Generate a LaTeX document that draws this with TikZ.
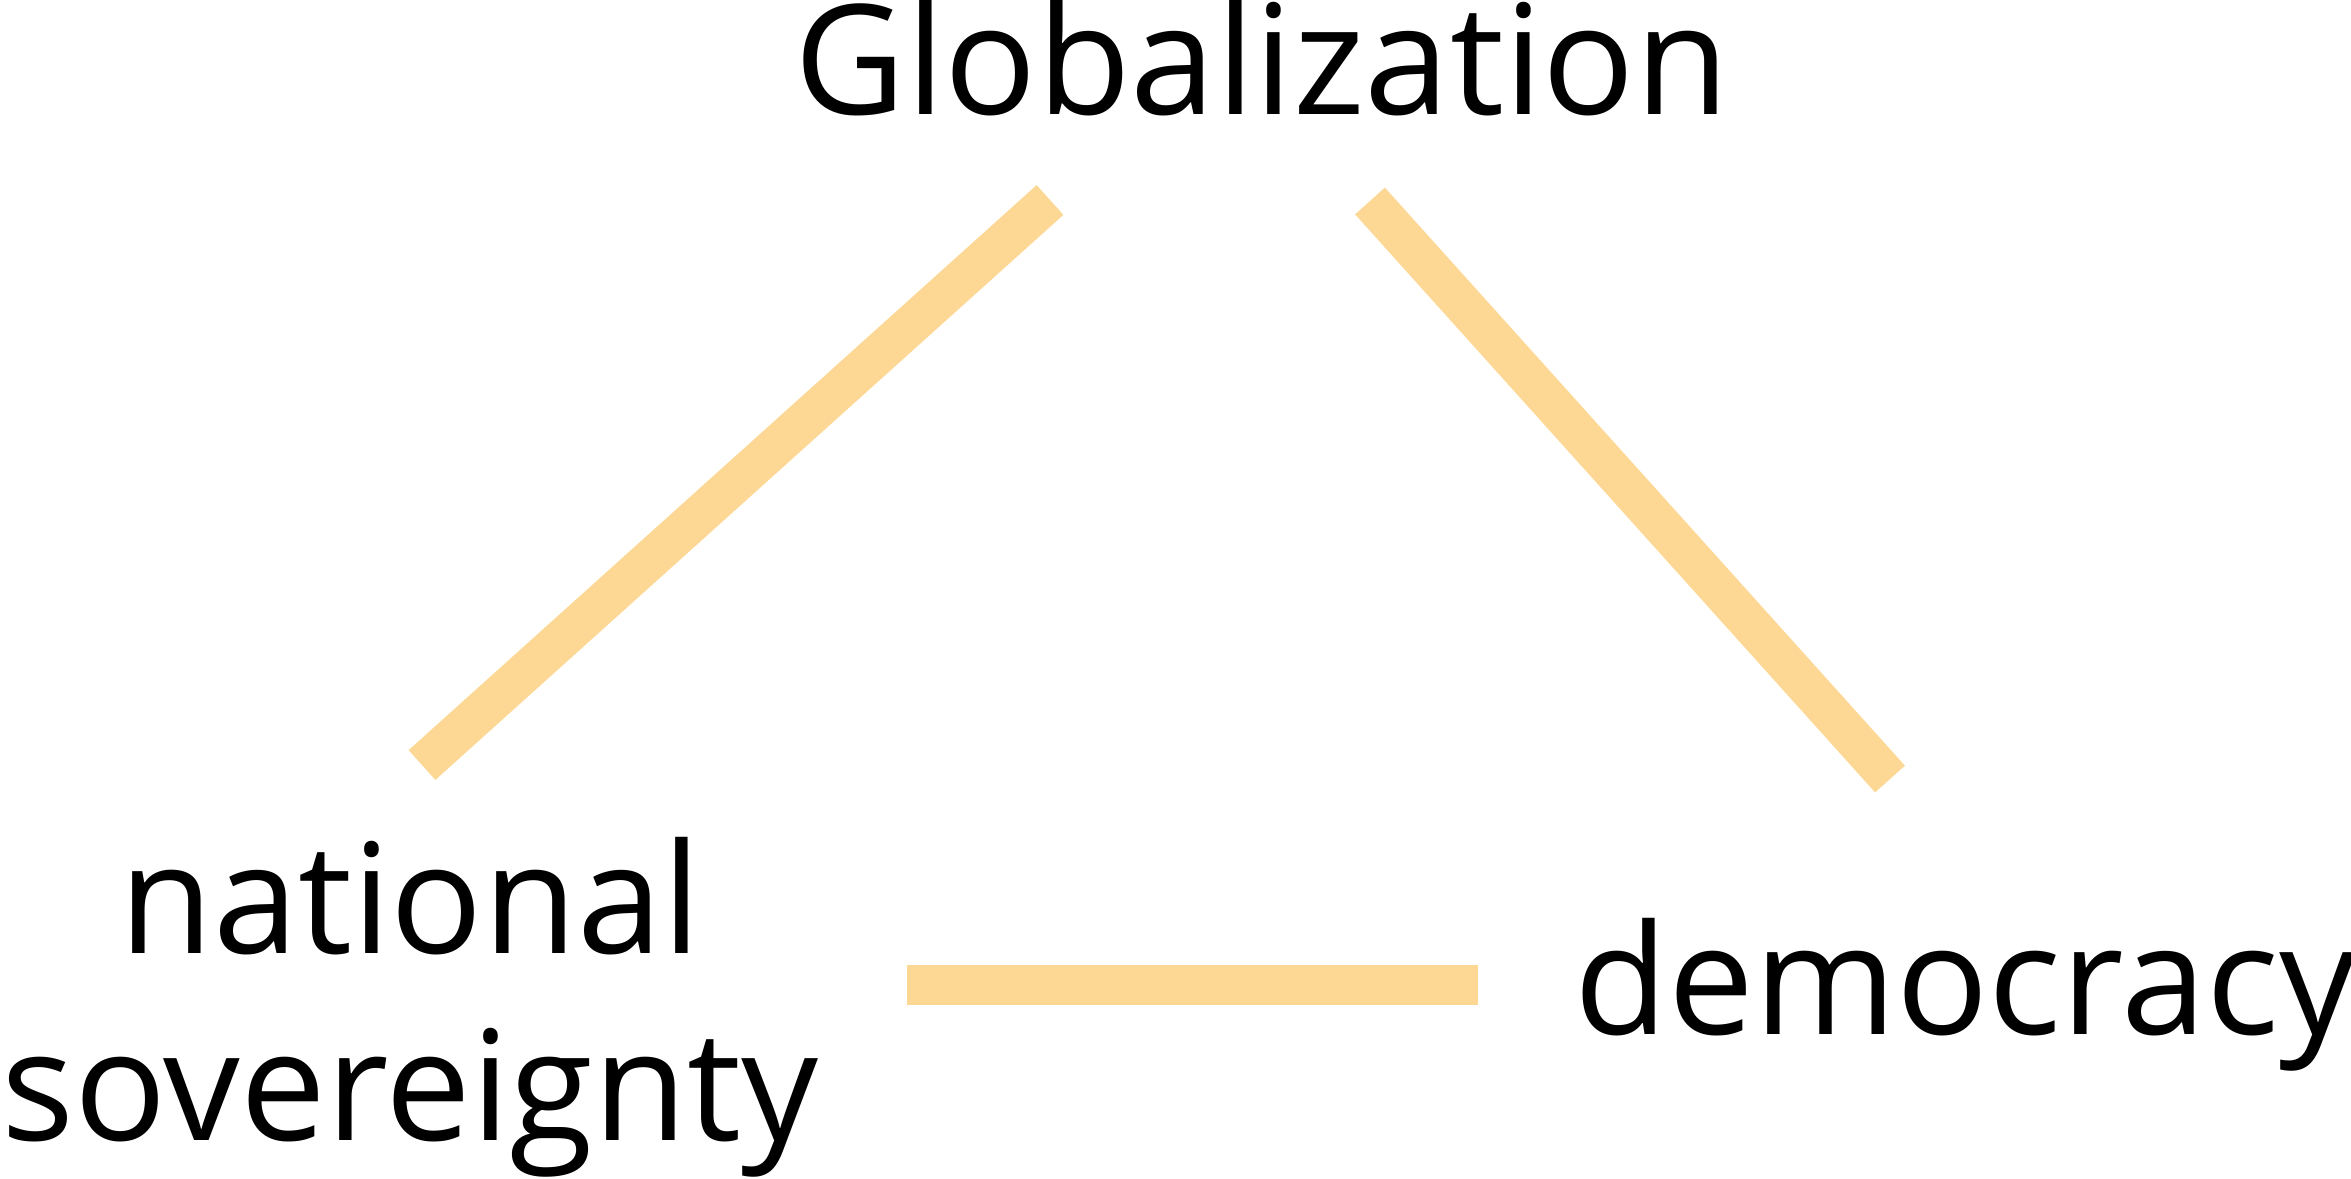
\documentclass[tikz,border=0pt]{standalone}
\usepackage{fontspec}
\setmainfont{Open Sans}
\usepackage{tikz}
\usetikzlibrary{positioning}
\definecolor{trilemma}{RGB}{253,215,148}

\begin{document}
\begin{tikzpicture}[x=0.01cm, y=-0.01cm]
        \tikzstyle{term} = [inner sep=0pt, font=\fontsize{43.5pt}{52.9pt}\selectfont, align=center]
        \tikzstyle{side} = [draw=trilemma, line width=0.4cm]
        \useasboundingbox (0,0) rectangle (2351,1178);
        \node (glob) [term, anchor=base west] at (794,114) {Globalization};
        \node (nat) [term, anchor=base] at (410,1140) {national\\sovereignty};
        \node (demo) [term, anchor=base west] at (1574,1034) {democracy};
        % ends of the three sides
        \coordinate (glob-w) at (1050,200);
        \coordinate (glob-e) at (1370,201);
        \coordinate (nat-n) at (422,765);
        \coordinate (nat-e) at (907,985);
        \coordinate (demo-n) at (1890,779);
        \coordinate (demo-w) at (1478,985);
        \draw [side] (nat-n) -- (glob-w);
        \draw [side] (glob-e) -- (demo-n);
        \draw [side] (nat-e) -- (demo-w);
    \end{tikzpicture}
\end{document}
